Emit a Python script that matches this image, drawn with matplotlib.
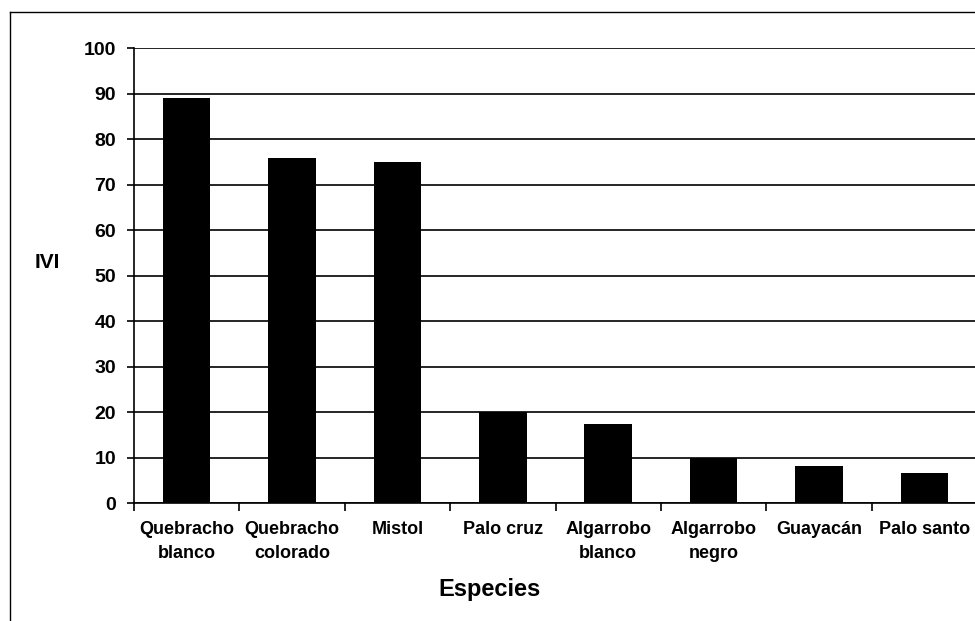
import matplotlib.pyplot as plt
import numpy as np
from matplotlib.lines import Line2D

plt.rcParams['font.family'] = ['Liberation Sans', 'DejaVu Sans']

especies = ["Quebracho\nblanco", "Quebracho\ncolorado", "Mistol", "Palo cruz",
            "Algarrobo\nblanco", "Algarrobo\nnegro", "Guayacán", "Palo santo"]
ivi = [89, 76, 75, 20, 17.5, 10, 8.2, 6.7]
yticks = [0, 10, 20, 30, 40, 50, 60, 70, 80, 90, 100]

fig = plt.figure(figsize=(9.75, 6.21), dpi=100)
ax = fig.add_axes([0.1375, 0.1895, 0.8645, 0.7327])

x = np.arange(len(especies))
ax.set_axisbelow(True)
ax.yaxis.grid(True, color="black", linewidth=1.2)
ax.bar(x, ivi, width=0.45, color="black", zorder=3)

ax.set_xlim(-0.5, len(especies) - 0.5)
ax.set_ylim(0, 100)
ax.set_yticks(yticks)
ax.tick_params(axis="y", direction="out", length=5, width=1.2, pad=8,
               labelsize=14)
for lab in ax.get_yticklabels():
    lab.set_fontweight("bold")

# category labels centred, tick marks between categories
ax.set_xticks(x)
ax.set_xticklabels(especies, fontsize=13, fontweight="bold", linespacing=1.5)
ax.set_xticks(np.arange(len(especies) + 1) - 0.5, minor=True)
ax.tick_params(axis="x", which="major", length=0, pad=13)
ax.tick_params(axis="x", which="minor", direction="out", length=6, width=1.2)

for side in ["top", "right"]:
    ax.spines[side].set_visible(False)
for side in ["left", "bottom"]:
    ax.spines[side].set_linewidth(1.2)

fig.text(0.036, 0.577, "IVI", fontsize=15, fontweight="bold", va="center")
fig.text(0.502, 0.05, "Especies", fontsize=17, fontweight="bold",
         ha="center", va="center")

# page frame lines
fig.add_artist(Line2D([0.0103, 1.0], [0.981, 0.981], color="black",
                      linewidth=1.0, transform=fig.transFigure))
fig.add_artist(Line2D([0.0103, 0.0103], [0.0, 0.981], color="black",
                      linewidth=1.0, transform=fig.transFigure))

fig.savefig("out.png", dpi=100)
